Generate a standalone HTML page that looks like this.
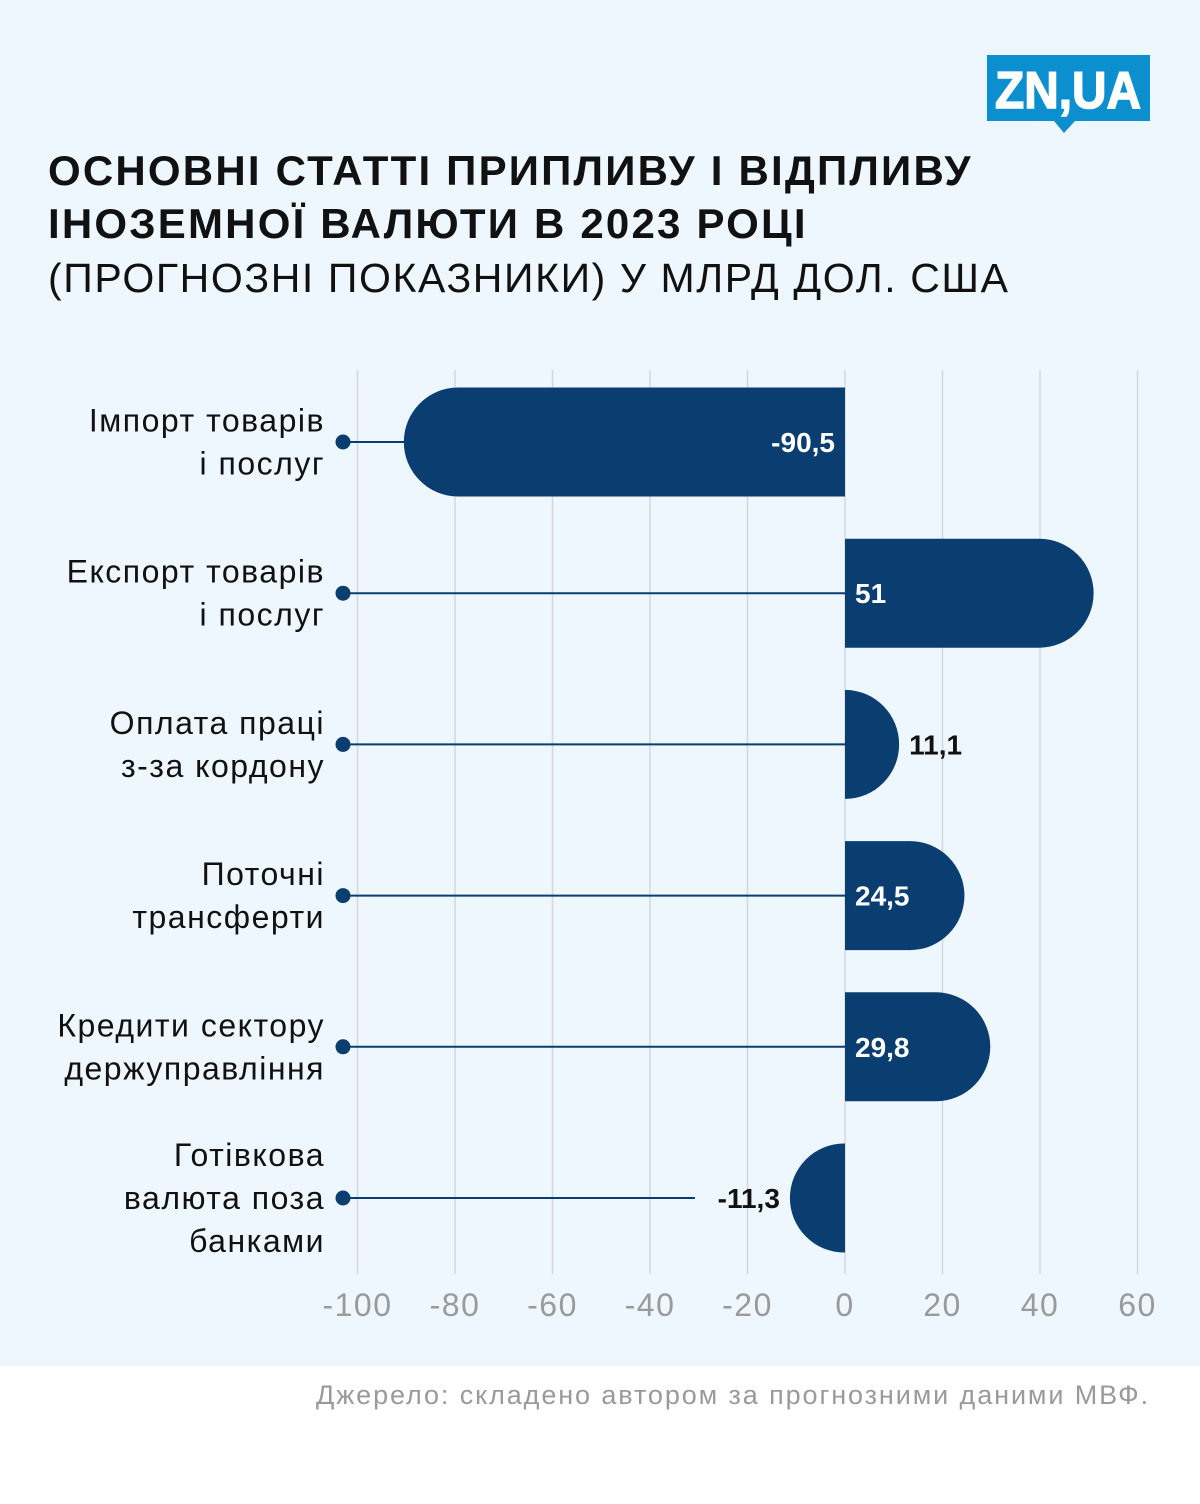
<!DOCTYPE html>
<html><head><meta charset="utf-8"><style>
body{margin:0;width:1200px;height:1504px;background:#fff;font-family:"Liberation Sans",sans-serif;overflow:hidden}
#bg{position:absolute;left:0;top:0;width:1200px;height:1366px;background:#eef6fe}
.t{position:absolute;left:48px;font-size:40px;color:#111;white-space:nowrap}
</style></head><body>
<div id="bg"></div>
<svg style="position:absolute;left:987px;top:55px" width="165" height="80">
<path d="M0 0H163V66H88L77 78L67 66H0Z" fill="#0b8fcf"/>
<text x="81" y="53" text-anchor="middle" font-family="Liberation Sans" font-weight="bold" font-size="52" fill="#fff" stroke="#fff" stroke-width="1.5" textLength="146" lengthAdjust="spacingAndGlyphs">ZN,UA</text>
</svg>
<div class="t" style="top:147px;font-weight:bold;font-size:42px;letter-spacing:2.2px">ОСНОВНІ СТАТТІ ПРИПЛИВУ І ВІДПЛИВУ</div>
<div class="t" style="top:200px;font-weight:bold;font-size:42px;letter-spacing:2.2px">ІНОЗЕМНОЇ ВАЛЮТИ В 2023 РОЦІ</div>
<div class="t" style="top:255px;font-size:41px;letter-spacing:1.6px">(ПРОГНОЗНІ ПОКАЗНИКИ) У МЛРД ДОЛ. США</div>
<svg id="chart" style="position:absolute;left:0;top:0" width="1200" height="1366"></svg>
<div style="position:absolute;right:50px;top:1380px;font-size:27px;color:#9a9a9a;letter-spacing:1.9px">Джерело: складено автором за прогнозними даними МВФ.</div>
<script>
const categories=[["Імпорт товарів","і послуг"],["Експорт товарів","і послуг"],["Оплата праці","з-за кордону"],["Поточні","трансферти"],["Кредити сектору","держуправління"],["Готівкова","валюта поза","банками"]];
const values=[-90.5,51,11.1,24.5,29.8,-11.3];
const valueLabels=["-90,5","51","11,1","24,5","29,8","-11,3"];
const ticks=[-100,-80,-60,-40,-20,0,20,40,60];
const NS="http://www.w3.org/2000/svg",svg=document.getElementById('chart');
const x=v=>845+v*4.875, yC=i=>442+i*151.2, H=109, R=54.5;
function el(t,a){const e=document.createElementNS(NS,t);for(const k in a)e.setAttribute(k,a[k]);svg.appendChild(e);return e;}
ticks.forEach(t=>{
 const g=el('line',{x1:x(t),x2:x(t),y1:370,y2:1274,stroke:'#d4d8dc','stroke-width':1.5});
 
 const tx=el('text',{x:x(t),y:1316,'text-anchor':'middle','font-size':32,fill:'#9a9a9a','font-family':'Liberation Sans','letter-spacing':1.5});
 tx.textContent=t<0?'-'+(-t):t;
 
});
values.forEach((v,i)=>{
 const c=yC(i),x0=x(0),x1=x(v),w=Math.abs(x1-x0),s=Math.sign(v),rx=Math.min(R,w);
 const outside=w<70;
 const lab=valueLabels[i];
 let lineEnd=x0;
 if(outside&&v<0)lineEnd=x1-10-lab.length*15-10;
 const ln=el('line',{x1:343,x2:lineEnd,y1:c,y2:c,stroke:'#0a3d70','stroke-width':2});
 
 const d=el('circle',{cx:343,cy:c,r:7.5,fill:'#0a3d70'});
 
 const xs=x1-s*rx;
 const p=el('path',{d:`M${x0} ${c-H/2}H${xs}A${rx} ${H/2} 0 0 ${v>0?1:0} ${xs} ${c+H/2}H${x0}Z`,fill:'#0a3d70'});
 
 let lx,anchor,fill;
 if(outside){lx=v>0?x1+10:x1-10;anchor=v>0?'start':'end';fill='#111';}
 else{lx=v>0?x0+10:x0-10;anchor=v>0?'start':'end';fill='#fff';}
 const vt=el('text',{x:lx,y:c+10,'text-anchor':anchor,'font-size':28,'font-weight':'bold',fill:fill,'font-family':'Liberation Sans','letter-spacing':0});
 vt.textContent=lab;
 
 const lines=categories[i],n=lines.length;
 lines.forEach((l,j)=>{
  const ct=el('text',{x:325,y:c+11+(j-(n-1)/2)*43,'text-anchor':'end','font-size':32,fill:'#111','font-family':'Liberation Sans','letter-spacing':1.5});
  ct.textContent=l;
  
 });
});
</script>
</body></html>
